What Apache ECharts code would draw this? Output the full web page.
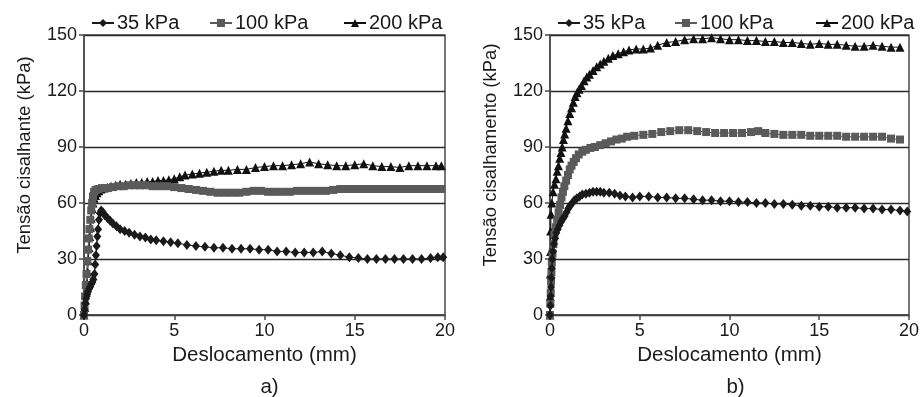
<!DOCTYPE html>
<html><head><meta charset="utf-8">
<script src="https://cdn.jsdelivr.net/npm/echarts@6/dist/echarts.min.js"></script>
<style>html,body{margin:0;padding:0;background:#fff}#c{width:922px;height:397px}</style>
</head><body><div id="c"></div>
<script>
const seriesNames = ['35 kPa', '100 kPa', '200 kPa'];
const xTicks = [0, 5, 10, 15, 20];
const yTicks = [0, 30, 60, 90, 120, 150];
const panelLabels = ['a)', 'b)'];
const yTitles = ['Tensão cisalhante (kPa)', 'Tensão cisalhamento (kPa)'];
const xTitle = 'Deslocamento (mm)';

// Panel a) — [deslocamento mm, tensão kPa]
const a35 = [[0,0],[0.04,3],[0.08,6],[0.12,9],[0.17,11],[0.22,12.5],[0.28,14],[0.34,15],[0.4,16.5],[0.46,17.5],[0.52,19],[0.58,22],[0.62,27],[0.66,32],[0.7,37],[0.74,42],[0.78,46],[0.83,51],[0.88,54.5],[0.95,56],[1.05,55],[1.15,53.5],[1.3,52],[1.45,50.5],[1.6,49],[1.8,47.5],[2.0,46],[2.25,45],[2.5,44],[2.8,43],[3.1,42],[3.4,41.5],[3.7,40.5],[4.0,40],[4.4,39.5],[4.8,39],[5.2,38.5],[5.7,37.5],[6.2,37],[6.7,36.5],[7.2,36],[7.7,36],[8.2,35.5],[8.7,35.5],[9.2,35.5],[9.7,35],[10.2,35],[10.7,34],[11.2,34],[11.7,33.5],[12.2,33.5],[12.7,33.5],[13.2,34],[13.7,33],[14.2,32],[14.7,31],[15.2,30.5],[15.7,30],[16.2,30],[16.7,30],[17.2,30],[17.7,30],[18.2,30],[18.7,30],[19.2,30.5],[19.6,31],[19.9,31]];
const a100 = [[0,0],[0.03,5],[0.06,10],[0.1,16],[0.14,22],[0.18,29],[0.22,35],[0.26,41],[0.3,46],[0.35,51],[0.4,56],[0.45,60],[0.5,63.5],[0.56,66],[0.65,67],[0.8,67.5],[1.0,68],[1.3,68],[1.6,68.5],[1.9,69],[2.2,69],[2.5,69.5],[2.8,69.5],[3.1,69.5],[3.4,69.5],[3.8,69],[4.2,69],[4.6,69],[5.0,68.5],[5.4,68],[5.8,67.5],[6.2,67],[6.6,66.5],[7.0,66],[7.4,65.5],[7.8,65.5],[8.2,65.5],[8.6,65.5],[9.0,66],[9.4,66.5],[9.8,66.5],[10.2,66],[10.6,66],[11.0,66],[11.4,66],[11.8,66.5],[12.2,66.5],[12.6,66.5],[13.0,66.5],[13.4,66.5],[13.8,67],[14.2,67.5],[14.6,67.5],[15.0,67.5],[15.4,67.5],[15.8,67.5],[16.2,67.5],[16.6,67.5],[17.0,67.5],[17.4,67.5],[17.8,67.5],[18.2,67.5],[18.6,67.5],[19.0,67.5],[19.4,67.5],[19.8,67.5]];
const a200 = [[0,0],[0.04,4],[0.08,8],[0.12,12],[0.16,17],[0.2,23],[0.24,29],[0.28,36],[0.32,42],[0.36,47],[0.4,52],[0.45,57],[0.5,60],[0.56,62.5],[0.64,64],[0.72,65.5],[0.82,66.5],[0.95,67.5],[1.1,68],[1.3,68.5],[1.5,69],[1.75,69.5],[2.0,70],[2.3,70],[2.6,70.5],[2.9,71],[3.2,71],[3.5,71.5],[3.8,71.5],[4.1,72],[4.4,72],[4.7,72.5],[5.0,73],[5.3,74],[5.6,75],[6.0,75.5],[6.4,76],[6.8,76.5],[7.2,77],[7.6,77.5],[8.0,77.5],[8.5,78],[9.0,78],[9.5,79],[10.0,79.5],[10.5,80],[11.0,80],[11.5,80.5],[12.0,81],[12.5,82],[13.0,81],[13.5,80.5],[14.0,80],[14.5,80],[15.0,80.5],[15.5,81],[16.0,80],[16.5,79.5],[17.0,79.5],[17.5,79],[18.0,80],[18.5,80],[19.0,80],[19.5,80],[19.8,80]];

// Panel b)
const b35 = [[0,0],[0.02,5],[0.04,10],[0.06,15],[0.08,20],[0.1,25],[0.13,30],[0.17,34],[0.22,38],[0.28,41],[0.35,44],[0.43,46],[0.52,48],[0.62,50],[0.72,51.5],[0.82,53],[0.92,55],[1.02,57],[1.12,58.5],[1.24,60],[1.36,61.5],[1.5,62.5],[1.65,63.5],[1.8,64.5],[2.0,65],[2.2,65.5],[2.4,66],[2.6,66],[2.8,66],[3.0,65.5],[3.3,65.5],[3.6,65],[3.9,64],[4.2,63.5],[4.6,63],[5.0,63.5],[5.5,63.5],[6.0,63],[6.5,63],[7.0,62.5],[7.5,62.5],[8.0,62],[8.5,61.5],[9.0,61.5],[9.5,61],[10.0,61],[10.5,60.5],[11.0,60.5],[11.5,60],[12.0,60],[12.5,59.5],[13.0,59.5],[13.5,59],[14.0,58.5],[14.5,58.5],[15.0,58],[15.5,58],[16.0,57.5],[16.5,57.5],[17.0,57.5],[17.5,57],[18.0,57],[18.5,56.5],[19.0,56.5],[19.5,56],[19.9,55.5]];
const b100 = [[0,0],[0.02,6],[0.04,12],[0.06,18],[0.08,23],[0.1,28],[0.14,33],[0.19,38],[0.25,43],[0.32,47],[0.4,51],[0.48,55],[0.56,59],[0.64,63],[0.72,66],[0.8,69],[0.9,72],[1.0,75],[1.1,78],[1.2,80],[1.32,82],[1.45,84],[1.6,86],[1.8,87.5],[2.0,88.5],[2.25,89.5],[2.5,90],[2.8,91],[3.1,92],[3.4,93],[3.7,94],[4.0,94.5],[4.3,95.5],[4.7,96],[5.2,96.5],[5.7,97],[6.2,98],[6.7,98.5],[7.2,99],[7.7,99],[8.2,98.5],[8.7,98],[9.2,97.5],[9.7,97.5],[10.2,97.5],[10.7,97.5],[11.2,98],[11.6,98.5],[12.0,97.5],[12.5,97],[13.0,96.5],[13.5,96.5],[14.0,96.5],[14.5,96],[15.0,96],[15.5,96],[16.0,96],[16.5,95.5],[17.0,95.5],[17.5,95.5],[18.0,95.5],[18.5,95.5],[19.0,94.5],[19.5,94]];
const b200 = [[0,0],[0.01,10],[0.02,22],[0.03,34],[0.04,45],[0.06,54],[0.1,60],[0.17,66],[0.25,70],[0.33,73],[0.4,77],[0.47,80],[0.54,84],[0.61,87],[0.68,90],[0.75,94],[0.82,97],[0.9,100],[1.0,104],[1.1,108],[1.2,111],[1.3,114],[1.4,117],[1.5,119],[1.62,121],[1.75,123],[1.9,125.5],[2.05,127.5],[2.2,129],[2.4,131],[2.6,133],[2.8,134.5],[3.0,136],[3.25,137.5],[3.5,139],[3.8,140],[4.1,141],[4.4,142],[4.8,142.5],[5.2,142.5],[5.6,143],[6.0,144.5],[6.5,146],[7.0,146.5],[7.5,147.5],[8.0,148],[8.5,148],[9.0,148.5],[9.5,148],[10.0,147.5],[10.5,147.5],[11.0,147],[11.5,147],[12.0,146.5],[12.5,146.5],[13.0,146],[13.5,146],[14.0,145.5],[14.5,145],[15.0,145.5],[15.5,145],[16.0,145],[16.5,144.5],[17.0,144],[17.5,144],[18.0,144.5],[18.5,144],[19.0,143.5],[19.5,143.5]];

const FONT = 'Liberation Sans, Arial, Helvetica, sans-serif';
const TXT = '#1a1a1a';
const AXC = '#4a4a4a';
const styles = [
  {symbol: 'diamond', size: [8, 10], color: '#1a1a1a'},
  {symbol: 'rect', size: 8, color: '#5a5a5a'},
  {symbol: 'triangle', size: 9, color: '#111111'}
];
const panels = [[a35, a100, a200], [b35, b100, b200]];
const grids = [
  {left: 84, right: 477, top: 35, bottom: 82},
  {left: 550, right: 11, top: 35, bottom: 82}
];
const legendPos = [[86, 204, 338], [552, 669, 810]];
const panelCenter = [264.5, 730.5];

function xAxisFor(i) {
  return {
    type: 'value', gridIndex: i, min: 0, max: 20, interval: 5,
    name: xTitle, nameLocation: 'middle', nameGap: 30,
    nameTextStyle: {fontFamily: FONT, fontSize: 20.5, color: TXT},
    axisLine: {show: true, onZero: false, lineStyle: {color: AXC, width: 1.5}},
    axisTick: {show: true, inside: false, length: 5, lineStyle: {color: AXC, width: 1.5}},
    axisLabel: {fontFamily: FONT, fontSize: 18, color: TXT, margin: 7},
    splitLine: {show: false}
  };
}
function yAxisFor(i) {
  return {
    type: 'value', gridIndex: i, min: 0, max: 150, interval: 30,
    name: yTitles[i], nameLocation: 'middle', nameRotate: 90, nameGap: 50,
    nameTextStyle: {fontFamily: FONT, fontSize: 18.5, color: TXT, padding: [0, 0, 0, 40]},
    axisLine: {show: true, lineStyle: {color: AXC, width: 1.5}},
    axisTick: {show: true, inside: false, length: 5, lineStyle: {color: AXC, width: 1.5}},
    axisLabel: {fontFamily: FONT, fontSize: 18, color: TXT, margin: 7},
    splitLine: {show: true, lineStyle: {color: '#2a2a2a', width: 1.3}}
  };
}

const series = [];
panels.forEach((sets, p) => {
  sets.forEach((data, k) => {
    series.push({
      type: 'line', name: seriesNames[k], xAxisIndex: p, yAxisIndex: p,
      data: data, symbol: styles[k].symbol, symbolSize: styles[k].size, showSymbol: true,
      itemStyle: {color: styles[k].color},
      lineStyle: {color: styles[k].color, width: 1},
      z: 3 + (2 - k)
    });
  });
});

const legends = [];
legendPos.forEach((xs) => {
  xs.forEach((x, k) => {
    legends.push({
      data: [seriesNames[k]], left: x, top: 8, itemWidth: 22, itemHeight: 10, itemGap: 0,
      selectedMode: false,
      textStyle: {fontFamily: FONT, fontSize: 20, color: TXT, padding: [0, 0, 0, -2]}
    });
  });
});

const titles = panelLabels.map((t, i) => ({
  text: t, left: panelCenter[i], top: 372, textAlign: 'center',
  textStyle: {fontFamily: FONT, fontSize: 20.5, fontWeight: 'normal', color: TXT}
}));

const chart = echarts.init(document.getElementById('c'), null, {renderer: 'canvas'});
chart.setOption({
  animation: false,
  backgroundColor: '#ffffff',
  title: titles,
  legend: legends,
  grid: grids.map(g => Object.assign({show: true, borderColor: AXC, borderWidth: 1.5, backgroundColor: 'transparent'}, g)),
  xAxis: [xAxisFor(0), xAxisFor(1)],
  yAxis: [yAxisFor(0), yAxisFor(1)],
  series: series
});
</script></body></html>
